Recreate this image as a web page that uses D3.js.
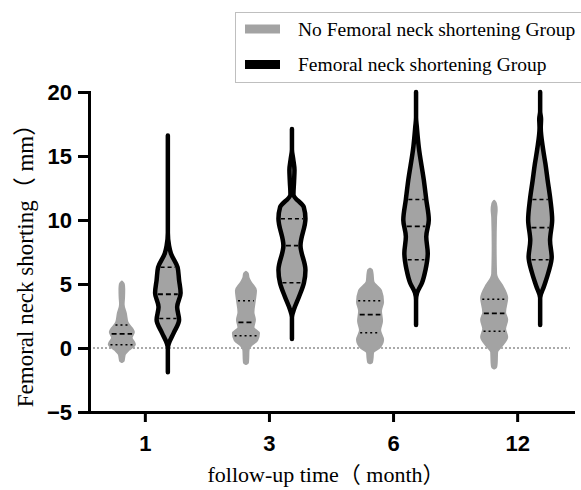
<!DOCTYPE html>
<html>
<head>
<meta charset="utf-8">
<script src="https://cdn.jsdelivr.net/npm/d3@7"></script>
<style>
  body { margin: 0; background: #fff; }
  .serif { font-family: "Liberation Serif", "Times New Roman", "Noto Sans CJK SC", serif; }
  .axis text { font-family: "Liberation Sans", Arial, sans-serif; font-weight: bold; font-size: 22px; fill: #000; }
</style>
</head>
<body>
<div id="chart"></div>
<script>
const months = ["1", "3", "6", "12"];
const groups = ["no", "yes"];
const groupLabels = ["No Femoral neck shortening Group", "Femoral neck shortening Group"];
const yTicks = [-5, 0, 5, 10, 15, 20];

// violin outlines: [value (mm), relative half width]
const noShort1 = [[-1.1, 0], [-1.0, 0.12], [-0.8, 0.15], [-0.5, 0.2], [-0.15, 0.47], [0.3, 0.87], [0.8, 0.65], [1.25, 0.8], [2.0, 0.38], [2.7, 0.27], [3.4, 0.12], [4.0, 0.15], [4.6, 0.16], [5.0, 0.13], [5.2, 0]];
const noShort3 = [[-1.25, 0], [-1.15, 0.13], [-0.9, 0.15], [-0.2, 0.17], [0.2, 0.35], [0.6, 0.75], [1.15, 0.87], [1.6, 0.5], [2.2, 0.6], [2.8, 0.5], [3.75, 0.6], [4.5, 0.67], [5.1, 0.35], [5.5, 0.17], [5.8, 0.13], [5.95, 0]];
const noShort6 = [[-1.2, 0], [-1.1, 0.13], [-0.8, 0.17], [-0.35, 0.2], [0, 0.6], [0.65, 0.87], [1.4, 0.67], [2.1, 0.8], [2.9, 0.73], [3.6, 0.87], [4.5, 0.73], [5.2, 0.22], [5.8, 0.17], [6.1, 0.12], [6.2, 0]];
const noShort12 = [[-1.6, 0], [-1.5, 0.13], [-1.2, 0.17], [-0.3, 0.2], [0.1, 0.47], [0.85, 0.87], [1.5, 0.73], [2.2, 0.87], [2.8, 0.73], [3.9, 0.87], [4.9, 0.53], [5.5, 0.2], [5.8, 0.13], [8.0, 0.1], [10.2, 0.13], [10.8, 0.17], [11.3, 0.12], [11.5, 0]];

const short1 = [[-1.9, 0], [0, 0], [0.3, 0.05], [1.2, 0.4], [2.2, 0.75], [3.2, 0.62], [4.3, 0.85], [5.3, 0.75], [6.3, 0.65], [7.4, 0.2], [8.0, 0.08], [9.0, 0], [16.6, 0]];
const short3 = [[0.7, 0], [2.4, 0], [3.0, 0.13], [4.0, 0.47], [5.1, 0.8], [6.1, 0.9], [8.0, 0.57], [10.1, 0.9], [11.0, 0.79], [12.0, 0.1], [13.0, 0.14], [13.9, 0.17], [14.8, 0.08], [15.5, 0], [17.1, 0]];
const short6 = [[1.8, 0], [3.75, 0], [4.3, 0.07], [5.1, 0.4], [6.1, 0.63], [7.4, 0.78], [8.7, 0.68], [10.0, 0.85], [11.6, 0.68], [13.1, 0.52], [15.7, 0.18], [17.3, 0.05], [18.0, 0], [20.0, 0]];
const short12 = [[1.8, 0], [3.9, 0], [4.8, 0.25], [5.9, 0.55], [7.1, 0.77], [8.4, 0.66], [10.0, 0.8], [11.6, 0.68], [13.1, 0.5], [14.4, 0.35], [15.5, 0.2], [17.2, 0.04], [17.9, 0.06], [18.5, 0], [20.0, 0]];

// [lower quartile, median, upper quartile]
const noShortQuartiles = [[0.25, 1.1, 1.8], [0.95, 2.0, 3.7], [1.2, 2.6, 3.7], [1.3, 2.7, 3.8]];
const shortQuartiles = [[2.3, 4.2, 6.3], [5.1, 8.0, 10.1], [6.9, 9.5, 11.6], [6.9, 9.4, 11.6]];

const noShortProfiles = [noShort1, noShort3, noShort6, noShort12];
const shortProfiles = [short1, short3, short6, short12];

const width = 581, height = 490;
const grey = "#a3a3a3";

const svg = d3.select("#chart").append("svg")
    .attr("width", width)
    .attr("height", height);

const x = d3.scalePoint().domain(months).range([89, 573]).padding(0.45);
const xSub = d3.scalePoint().domain(groups).range([-23, 23]);
const y = d3.scaleLinear().domain([-5, 20]).range([412, 92]);
const w = d3.scaleLinear().domain([0, 1]).range([0, 15]);

// dotted zero line
svg.append("line")
    .attr("x1", x.range()[0]).attr("x2", 570)
    .attr("y1", y(0)).attr("y2", y(0))
    .attr("stroke", "#555").attr("stroke-width", 1)
    .attr("stroke-dasharray", "2,2");

const area = d3.area()
    .y(d => y(d[0]))
    .x0(d => -w(d[1]))
    .x1(d => w(d[1]))
    .curve(d3.curveMonotoneY);

function drawViolin(month, group, profile, quart) {
    const g = svg.append("g")
        .attr("transform", `translate(${x(month) + xSub(group)},0)`);
    const isShort = group === "yes";

    g.append("path")
        .datum(profile)
        .attr("d", area)
        .attr("fill", grey)
        .attr("stroke", isShort ? "#000" : grey)
        .attr("stroke-width", isShort ? 4.5 : 2)
        .attr("stroke-linejoin", "round");

    // width of the violin at a value, linear between read points
    const widthAt = d3.scaleLinear()
        .domain(profile.map(d => d[0]))
        .range(profile.map(d => d[1]));
    const inset = isShort ? 2.5 : 1;

    quart.forEach((q, i) => {
        const half = Math.max(w(widthAt(q)) - inset, 1);
        g.append("line")
            .attr("x1", -half).attr("x2", half)
            .attr("y1", y(q)).attr("y2", y(q))
            .attr("stroke", "#000")
            .attr("stroke-width", i === 1 ? 1.8 : 1.5)
            .attr("stroke-dasharray", i === 1 ? "5,3" : (isShort ? "4,3" : "2,3"));
    });
}

months.forEach((m, i) => {
    drawViolin(m, "no", noShortProfiles[i], noShortQuartiles[i]);
    drawViolin(m, "yes", shortProfiles[i], shortQuartiles[i]);
});

// axes
svg.append("g")
    .attr("class", "axis")
    .attr("transform", "translate(89,0)")
    .call(d3.axisLeft(y).tickValues(yTicks).tickSize(11).tickSizeOuter(0).tickPadding(6));

svg.append("g")
    .attr("class", "axis")
    .attr("transform", "translate(0,412)")
    .call(d3.axisBottom(x).tickSize(10).tickSizeOuter(0).tickPadding(13));

svg.selectAll(".axis .domain")
    .attr("stroke", "#000").attr("stroke-width", 3).attr("stroke-linecap", "square");
svg.selectAll(".axis .tick line")
    .attr("stroke", "#000").attr("stroke-width", 3);

// axis titles
svg.append("text")
    .attr("class", "serif")
    .attr("transform", "translate(33,260) rotate(-90)")
    .attr("text-anchor", "middle")
    .attr("font-size", 23)
    .text("Femoral neck shorting（ mm）");

svg.append("text")
    .attr("class", "serif")
    .attr("x", 326).attr("y", 482)
    .attr("text-anchor", "middle")
    .attr("font-size", 22)
    .text("follow-up time（ month）");

// legend
const legend = svg.append("g");
legend.append("rect")
    .attr("x", 235.5).attr("y", 12.5)
    .attr("width", 350).attr("height", 70)
    .attr("fill", "#fff").attr("stroke", "#bfbfbf");

const legendY = [29, 64.5];
groupLabels.forEach((label, i) => {
    legend.append("rect")
        .attr("x", 245).attr("y", legendY[i] - 4.5)
        .attr("width", 35).attr("height", 9)
        .attr("fill", i === 0 ? grey : "#000");
    legend.append("text")
        .attr("class", "serif")
        .attr("x", 298).attr("y", legendY[i] + 6.5)
        .attr("font-size", 19.5)
        .text(label);
});
</script>
</body>
</html>
